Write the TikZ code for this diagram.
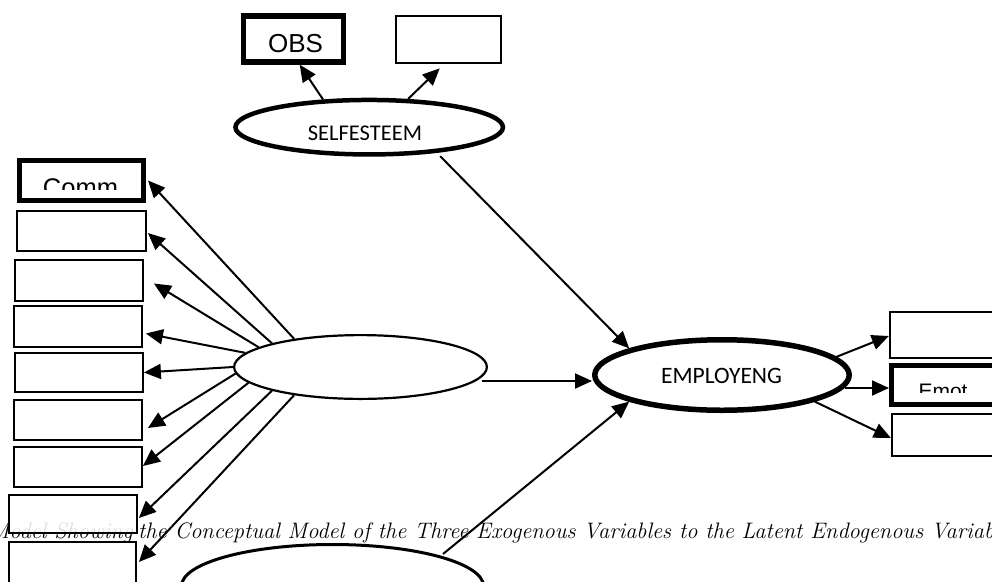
\documentclass[tikz,border=0pt]{standalone}
\usepackage{fontspec}
\newfontfamily\arialf{Liberation Sans}
\newfontfamily\calibrif{Carlito}
\usetikzlibrary{arrows.meta,calc,shapes.geometric}
\tikzset{
  indbox/.style={draw=black, fill=white, rectangle, inner sep=0pt, line width=2.3pt},
  keybox/.style={indbox, line width=5.5pt},
  latent/.style={draw=black, fill=white, ellipse, inner sep=0pt},
  patharrow/.style={draw=black, line width=2pt, -{Triangle[length=17pt,width=15pt]}},
  captionfont/.style={font=\fontsize{22.4}{27}\selectfont\itshape, inner sep=0pt},
}
\begin{document}
\begin{tikzpicture}[x=1pt,y=-1pt]
\useasboundingbox (0,0) rectangle (992,581);
\clip (0,0) rectangle (992,581);
\fill[white] (0,0) rectangle (992,581);

% caption (partly hidden, as in the reference)
\node[captionfont, anchor=base west] (capB) at (138,538)
  {the Conceptual Model of the Three Exogenous Variables to the Latent Endogenous Variables};
\node[captionfont, anchor=base east] (capA) at ($(capB.base west)+(-5,0)$) {Model Showing};

% top indicators
\node[keybox, minimum width=100pt, minimum height=46pt] (obs) at (293.7,38.9) {};
\node[font=\arialf\fontsize{26}{30}\selectfont, anchor=base, inner sep=0pt] (obstxt) at (295.5,52) {OBS};
\node[indbox, minimum width=105pt, minimum height=47pt] (tb) at (448.7,39.7) {};

% left indicators
\node[keybox, line width=5pt, minimum width=124pt, minimum height=40pt] (b1) at (81.5,180.5) {};
\node[indbox, minimum width=128.5pt, minimum height=39.5pt] (b2) at (81.5,231) {};
\node[indbox, minimum width=127.5pt, minimum height=40.5pt] (b3) at (79,280.5) {};
\node[indbox, minimum width=127.5pt, minimum height=40.5pt] (b4) at (78,326.5) {};
\node[indbox, minimum width=127.5pt, minimum height=38.5pt] (b5) at (79,372.5) {};
\node[indbox, minimum width=127.5pt, minimum height=39.5pt] (b6) at (78,420) {};
\node[indbox, minimum width=127.5pt, minimum height=39.5pt] (b7) at (78,467) {};
\node[indbox, fill opacity=0.88, minimum width=127.5pt, minimum height=37.5pt] (b8) at (73,514) {};
\node[indbox, minimum width=126.5pt, minimum height=41.5pt] (b9) at (72.5,563) {};
\begin{scope}
  \clip (18,160) rectangle (145,189);
  \node[font=\arialf\fontsize{25.5}{30}\selectfont, anchor=base, inner sep=0pt] (commtxt) at (80.5,196.3) {Comm};
\end{scope}

% right indicators
\node[indbox, minimum width=110pt, minimum height=46pt] (r1) at (945,335) {};
\node[keybox, line width=5pt, minimum width=106pt, minimum height=39pt] (r2) at (944.5,385) {};
\node[indbox, minimum width=107pt, minimum height=42pt] (r3) at (945.5,435) {};
\begin{scope}
  \clip (892,366) rectangle (992,392);
  \node[font=\arialf\fontsize{21}{25}\selectfont, anchor=base, inner sep=0pt] (emottxt) at (943,398) {Emot};
\end{scope}

% latent variables
\node[latent, line width=4.5pt, minimum width=267.5pt, minimum height=54.5pt] (se) at (369.2,127.2) {};
\node[font=\calibrif\fontsize{22.5}{27}\selectfont, inner sep=0pt] (setxt) at (365,133.5) {SELFESTEEM};
\node[latent, line width=5.5pt, minimum width=254.5pt, minimum height=70.5pt] (emp) at (722,375) {};
\node[font=\calibrif\fontsize{23.5}{28}\selectfont, inner sep=0pt] (emptxt) at (721.5,375.5) {EMPLOYENG};
\node[latent, line width=2.2pt, minimum width=252.8pt, minimum height=63.8pt] (mid) at (360.5,367) {};
\node[latent, line width=3pt, minimum width=302pt, minimum height=83pt] (bot) at (332.5,586) {};

% connectors
\draw[patharrow] (se.149) -- ($(obs.south)+(6,0)$);
\draw[patharrow] (se.36) -- ($(tb.south)+(-9,4)$);
\draw[patharrow] ($(se.center)+(71,29)$) -- (emp.164);
\draw[patharrow] ($(mid.center)+(121,14)$) -- ($(emp.west)+(0,6)$);
\draw[patharrow] ($(bot.center)+(110.5,-32)$) -- (emp.196);

\draw[patharrow] (emp.9) -- ($(r1.west)+(0,1)$);
\draw[patharrow] ($(emp.center)+(123,13)$) -- ($(r2.west)+(0,3)$);
\draw[patharrow] (emp.-16) -- ($(r3.west)+(0,3)$);

\draw[patharrow] (mid.157) -- ($(b1.east)+(2,0)$);
\draw[patharrow] (mid.165) -- ($(b2.east)+(1,2)$);
\draw[patharrow] (mid.169) -- ($(b3.east)+(10,3)$);
\draw[patharrow] (mid.173) -- ($(b4.east)+(3,7)$);
\draw[patharrow] (mid.180) -- (b5.east);
\draw[patharrow] (mid.183) -- ($(b6.east)+(5,8)$);
\draw[patharrow] (mid.188) -- ($(b7.east)+(0,-1)$);
\draw[patharrow] (mid.195) -- ($(b8.east)+(1,4)$);
\draw[patharrow] (mid.203) -- ($(b9.east)+(2,-1)$);
\end{tikzpicture}
\end{document}
